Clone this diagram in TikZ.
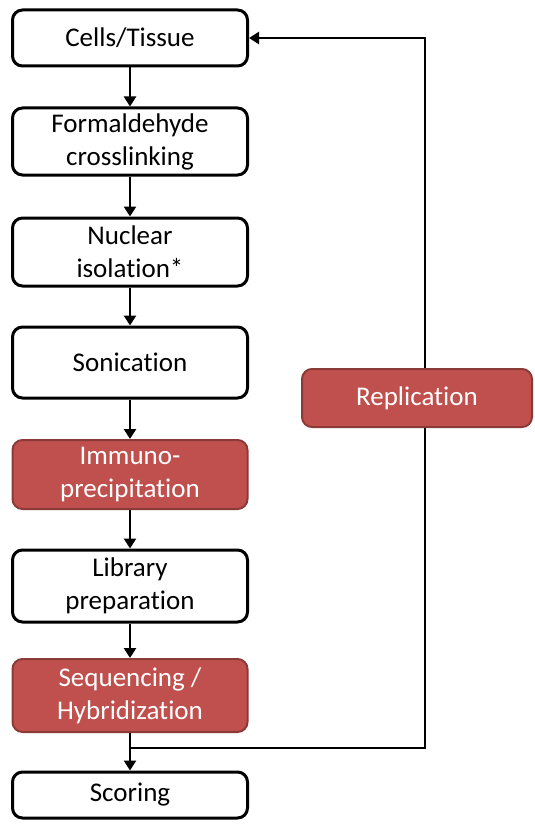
\documentclass[tikz,border=0pt]{standalone}
\usepackage{fontspec}
\setmainfont{Carlito}[RawFeature={-liga;-clig;-calt;-dlig}]
\usetikzlibrary{arrows.meta}
\definecolor{boxred}{HTML}{C0504D}
\definecolor{boxredline}{HTML}{8C3A38}
\begin{document}
\begin{tikzpicture}[x=1pt,y=-1pt,
  base/.style={rounded corners=10pt, minimum width=235pt, inner sep=0pt, align=center,
    font=\fontsize{27}{33}\selectfont},
  whitebox/.style={base, draw=black, line width=3pt, fill=white, text=black},
  redbox/.style={base, draw=boxredline, line width=2pt, fill=boxred, text=white},
  conn/.style={line width=2.8pt, draw=black, -{Triangle[length=10pt,width=12pt]}}
]
\useasboundingbox (0,0) rectangle (535,824);
\node[whitebox, minimum height=56pt] (cells) at (130,38) {Cells/Tissue};
\node[whitebox, minimum height=67pt] (form) at (130,141.5) {Formaldehyde\\crosslinking};
\node[whitebox, minimum height=68pt] (nuc) at (130,252) {Nuclear\\isolation*};
\node[whitebox, minimum height=71pt] (son) at (130,362.5) {Sonication};
\node[redbox, minimum height=69pt] (imm) at (130,474.5) {Immuno-\\precipitation};
\node[whitebox, minimum height=72pt] (lib) at (130,586) {Library\\preparation};
\node[redbox, minimum height=73pt] (seq) at (130,695.5) {Sequencing /\\Hybridization};
\node[whitebox, minimum height=46pt] (score) at (130,795) {Scoring};
\coordinate (j) at (130,748);
\coordinate (jr) at (425,748);
\coordinate (tr) at (425,38);
\draw[conn] (cells) -- (form);
\draw[conn] (form) -- (nuc);
\draw[conn] (nuc) -- (son);
\draw[conn] (son) -- (imm);
\draw[conn] (imm) -- (lib);
\draw[conn] (lib) -- (seq);
\draw[conn] (seq) -- (score);
\draw[conn] (j) -- (jr) -- (tr) -- (cells.east);
\node[redbox, minimum width=230pt, minimum height=58pt] (rep) at (417,398) {Replication};
\end{tikzpicture}
\end{document}
